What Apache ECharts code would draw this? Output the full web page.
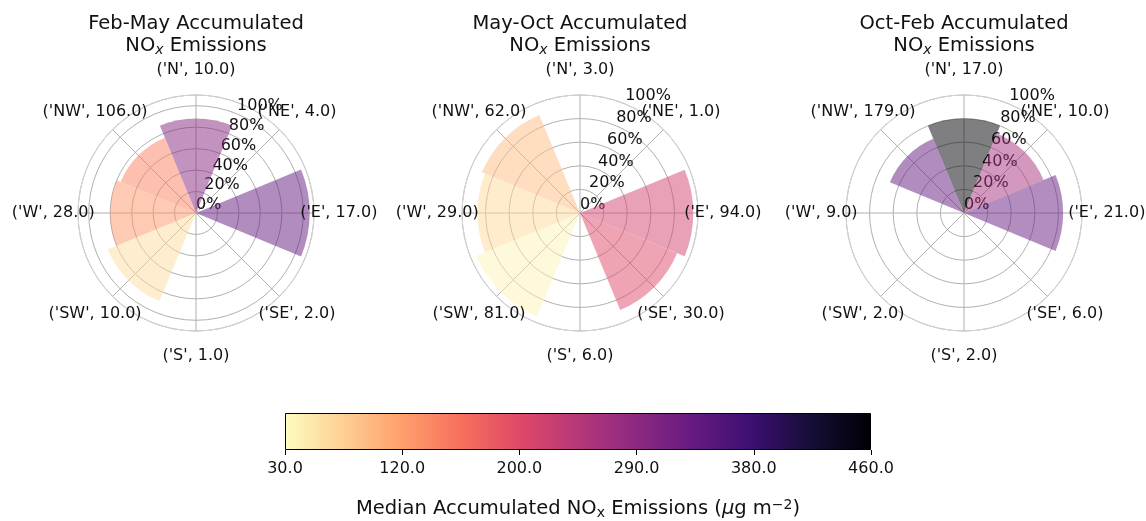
<!DOCTYPE html>
<html>
<head>
<meta charset="utf-8">
<script src="https://cdn.jsdelivr.net/npm/echarts@6/dist/echarts.min.js"></script>
<style>
html, body { margin: 0; padding: 0; background: #fff; }
#chart { width: 1146px; height: 521px; }
</style>
</head>
<body>
<div id="chart"></div>
<script>
var directions = ['N', 'NE', 'E', 'SE', 'S', 'SW', 'W', 'NW'];
var seasons = ['Feb-May', 'May-Oct', 'Oct-Feb'];

// number of cases per direction (shown in the labels)
var countsFebMay = [10, 4, 17, 2, 1, 10, 28, 106];
var countsMayOct = [3, 1, 94, 30, 6, 81, 29, 62];
var countsOctFeb = [17, 10, 21, 6, 2, 2, 9, 179];

// bar length in %
var pctFebMay = [88, 0, 106, 0, 0, 89, 80, 76];
var pctMayOct = [0, 0, 96, 89, 0, 95, 87, 90];
var pctOctFeb = [80, 73, 84, 0, 0, 0, 0, 68];

// median accumulated NOx emissions (ug m-2), used for the bar colour
var medianFebMay = [292, null, 331, null, null, 60, 125, 145];
var medianMayOct = [null, null, 215, 202, null, 39, 64, 90];
var medianOctFeb = [460, 262, 328, null, null, null, null, 331];

var radialMax = [110, 100, 100];
var colorbarTicks = ['30.0', '120.0', '200.0', '290.0', '380.0', '460.0'];
var vmin = 30, vmax = 460;

// matplotlib magma, 0 -> 1 in steps of 0.1
var magma = ['#000004', '#140e36', '#3b0f70', '#641a80', '#8c2981', '#b73779',
             '#de4968', '#f7705c', '#fe9f6d', '#fecf92', '#fcfdbf'];

var counts = [countsFebMay, countsMayOct, countsOctFeb];
var pcts = [pctFebMay, pctMayOct, pctOctFeb];
var medians = [medianFebMay, medianMayOct, medianOctFeb];

var FONT = '"DejaVu Sans", sans-serif';
var TXT = '#111';
var centersX = [196, 580, 964];
var centerY = 213;
var R = 118;
var LABEL_R = 1.21; // direction labels sit a bit outside the plot circle

// angle axis runs counter-clockwise starting 22.5deg right of north,
// so the radial labels sit on that line like in matplotlib
var ccwOrder = [0, 7, 6, 5, 4, 3, 2, 1];

function hex2rgb(h) {
    return [parseInt(h.substr(1, 2), 16), parseInt(h.substr(3, 2), 16), parseInt(h.substr(5, 2), 16)];
}

function magmaR(v) {
    var t = 1 - (v - vmin) / (vmax - vmin);
    t = Math.max(0, Math.min(1, t));
    var p = t * (magma.length - 1), i = Math.floor(p), f = p - i;
    if (i >= magma.length - 1) return magma[magma.length - 1];
    var a = hex2rgb(magma[i]), b = hex2rgb(magma[i + 1]);
    return 'rgb(' + Math.round(a[0] + (b[0] - a[0]) * f) + ',' +
        Math.round(a[1] + (b[1] - a[1]) * f) + ',' +
        Math.round(a[2] + (b[2] - a[2]) * f) + ')';
}

var polar = [], angleAxis = [], radiusAxis = [], series = [], graphic = [];

for (var p = 0; p < 3; p++) {
    var cx = centersX[p], M = radialMax[p];
    // polar 2p : bars + labels, polar 2p+1 : grid
    polar.push({ center: [cx, centerY], radius: R });
    polar.push({ center: [cx, centerY], radius: R });

    angleAxis.push({
        polarIndex: 2 * p, type: 'category', startAngle: 67.5, clockwise: false,
        data: ccwOrder.map(function (k) { return directions[k]; }),
        axisLine: { show: false }, axisTick: { show: false },
        axisLabel: { show: false }, splitLine: { show: false }, z: 1
    });
    angleAxis.push({
        polarIndex: 2 * p + 1, type: 'value', min: 0, max: 360, interval: 45, startAngle: 90,
        axisLine: { show: true, lineStyle: { color: '#d4d4d4', width: 1 } },
        axisTick: { show: false }, axisLabel: { show: false },
        splitLine: { show: true, lineStyle: { color: '#b0b0b0', width: 1 } }, z: 0
    });
    radiusAxis.push({
        polarIndex: 2 * p, min: 0, max: M, interval: 20,
        axisLine: { show: false }, axisTick: { show: false }, splitLine: { show: false },
        axisLabel: {
            margin: 0, align: 'left', verticalAlign: 'bottom',
            fontSize: 16, fontFamily: FONT, color: TXT,
            formatter: function (v) { return v > 100 ? '' : v + '%'; }
        }, z: 1
    });
    radiusAxis.push({
        polarIndex: 2 * p + 1, min: 0, max: M, interval: 20,
        axisLine: { show: false }, axisTick: { show: false }, axisLabel: { show: false },
        splitLine: { show: true, lineStyle: { color: '#b0b0b0', width: 1 } }, z: 0
    });

    var pct = pcts[p], med = medians[p], cnt = counts[p];
    series.push({
        type: 'bar', coordinateSystem: 'polar', polarIndex: 2 * p,
        barCategoryGap: '0%', silent: true, z: 3,
        data: ccwOrder.map(function (k) {
            return {
                value: pct[k],
                itemStyle: { color: med[k] == null ? 'rgba(0,0,0,0)' : magmaR(med[k]), opacity: 0.5 }
            };
        })
    });
    series.push({
        type: 'scatter', coordinateSystem: 'polar', polarIndex: 2 * p,
        symbolSize: 2, clip: false, silent: true, z: 4,
        itemStyle: { color: 'rgba(0,0,0,0)' },
        label: {
            show: true, position: 'inside', formatter: '{b}', fontSize: 16, fontFamily: FONT,
            color: TXT, opacity: 1, textBorderWidth: 0, textBorderColor: 'transparent'
        },
        data: ccwOrder.map(function (k, j) {
            return { value: [M * LABEL_R, j], name: "('" + directions[k] + "', " + cnt[k].toFixed(1) + ")" };
        })
    });

    graphic.push({
        type: 'text', x: cx, y: 13, silent: true,
        style: {
            text: seasons[p] + ' Accumulated\nNO{sub|x} Emissions',
            align: 'center', verticalAlign: 'top', fontSize: 19.5, fontFamily: FONT, fill: TXT, lineHeight: 22,
            rich: { sub: { fontSize: 14, fontStyle: 'italic', fontFamily: FONT, fill: TXT, verticalAlign: 'bottom', lineHeight: 22 } }
        }
    });
}

// colorbar
var cbStops = magma.slice().reverse().map(function (c, i) {
    return { offset: i / (magma.length - 1), color: c };
});
series.push({
    type: 'bar', xAxisIndex: 0, yAxisIndex: 0, barWidth: '100%', silent: true,
    data: [colorbarTicks.length - 1],
    itemStyle: { color: new echarts.graphic.LinearGradient(0, 0, 1, 0, cbStops), borderColor: '#000', borderWidth: 1 }
});

graphic.push({
    type: 'text', x: 578, y: 498, silent: true,
    style: {
        text: 'Median Accumulated NO{sub|x} Emissions ({it|\u03bc}g m{sup|\u22122})',
        align: 'center', verticalAlign: 'top', fontSize: 19.5, fontFamily: FONT, fill: TXT, lineHeight: 22,
        rich: {
            sub: { fontSize: 14, fontFamily: FONT, fill: TXT, verticalAlign: 'bottom', lineHeight: 22 },
            it: { fontSize: 19.5, fontStyle: 'italic', fontFamily: FONT, fill: TXT },
            sup: { fontSize: 14, fontFamily: FONT, fill: TXT, verticalAlign: 'top', lineHeight: 22 }
        }
    }
});

var chart = echarts.init(document.getElementById('chart'));
chart.setOption({
    animation: false,
    backgroundColor: '#fff',
    textStyle: { fontFamily: FONT },
    polar: polar,
    angleAxis: angleAxis,
    radiusAxis: radiusAxis,
    grid: [{ left: 285, top: 413, width: 586, height: 37, show: false }],
    xAxis: [{
        gridIndex: 0, type: 'value', min: 0, max: colorbarTicks.length - 1, interval: 1,
        axisLine: { show: false }, splitLine: { show: false },
        axisTick: { show: true, length: 5, lineStyle: { color: '#000' } },
        axisLabel: { margin: 11, fontSize: 16, fontFamily: FONT, color: TXT,
            formatter: function (i) { return colorbarTicks[i]; } }
    }],
    yAxis: [{ gridIndex: 0, type: 'category', data: ['cb'], show: false }],
    graphic: graphic,
    series: series
});
</script>
</body>
</html>
